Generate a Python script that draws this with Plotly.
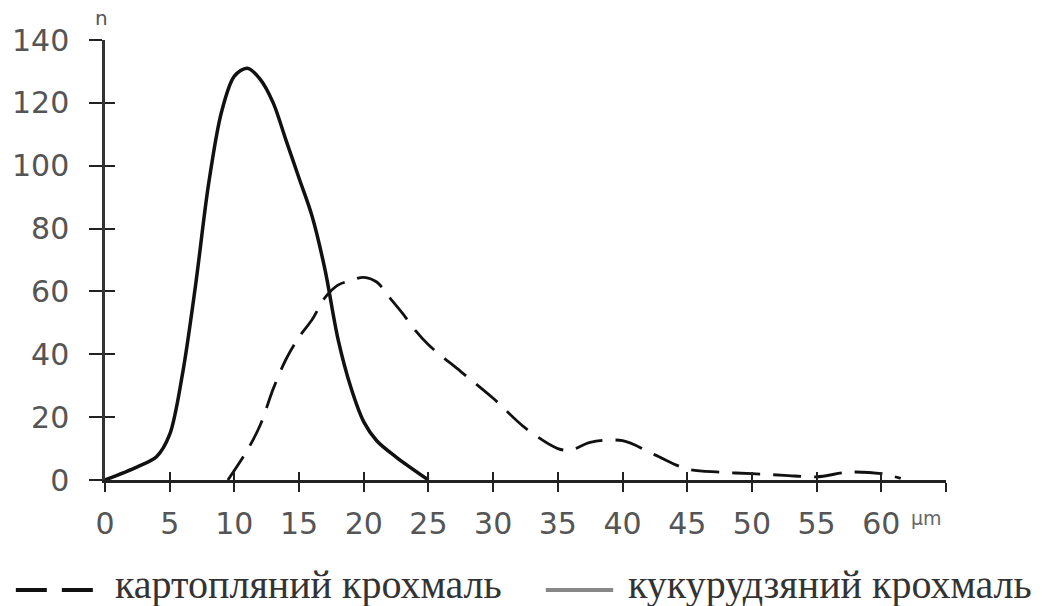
import plotly.graph_objects as go

# ---- data ----
corn_x = [0, 2.5, 4, 5, 6, 7, 8, 9, 10, 11, 12, 13, 14, 15, 16, 17, 18, 19, 20, 21, 22.5, 25]
corn_y = [0, 4.2, 7.5, 14.5, 34, 62, 94, 117, 128.5, 131, 127.5, 120, 108, 96, 84, 67, 45, 29.5, 18.5, 12.5, 7.3, 0]

potato_x = [9.5, 11, 12, 13, 14, 15, 16, 17, 18, 19, 20, 21, 22, 23, 24, 25, 27.5, 30, 32.5, 35, 36,
            37.5, 40, 42.5, 45, 47.5, 50, 52.5, 55, 57.5, 60, 61.5]
potato_y = [0, 9.5, 17.5, 29, 38.5, 45.5, 51, 58, 62, 63.5, 64.5, 63, 58, 53, 47.5, 43, 34.5, 26, 16.5, 10, 9.5,
            12, 12.5, 8, 3.5, 2.5, 2, 1.5, 1, 2.5, 2, 0.5]

x_tickvals = [0, 5, 10, 15, 20, 25, 30, 35, 40, 45, 50, 55, 60, 65]
x_ticktext = ["0", "5", "10", "15", "20", "25", "30", "35", "40", "45", "50", "55", "60", ""]
y_tickvals = [0, 20, 40, 60, 80, 100, 120, 140]
y_ticktext = ["0", "20", "40", "60", "80", "100", "120", "140"]

legend_potato = "картопляний крохмаль"
legend_corn = "кукурудзяний крохмаль"
y_title = "n"
x_unit = "μm"

# ---- figure ----
fig = go.Figure()
fig.add_trace(go.Scatter(x=corn_x, y=corn_y, mode="lines", cliponaxis=False,
                         line=dict(color="#111111", width=3.5, shape="spline", smoothing=0.9),
                         showlegend=False))
fig.add_trace(go.Scatter(x=potato_x, y=potato_y, mode="lines", cliponaxis=False,
                         line=dict(color="#111111", width=2.8, dash="28px,13px", shape="spline", smoothing=0.9),
                         showlegend=False))
# dummy trace for overlay axes (inside ticks)
fig.add_trace(go.Scatter(x=[None], y=[None], xaxis="x2", yaxis="y2", showlegend=False, hoverinfo="skip"))

tickfont = dict(family="DejaVu Sans", size=30, color="#555555")

fig.update_layout(
    width=1042, height=606,
    margin=dict(l=97, r=96, t=40, b=126),
    paper_bgcolor="white", plot_bgcolor="white",
    xaxis=dict(range=[0, 65], showgrid=False, zeroline=False, showline=True, linecolor="#222222", linewidth=2.5,
               ticks="outside", ticklen=9, tickwidth=2.2, tickcolor="#222222",
               tickmode="array", tickvals=x_tickvals, ticktext=x_ticktext, tickfont=tickfont,
               ticklabelstandoff=6),
    yaxis=dict(range=[0, 140], showgrid=False, zeroline=False, showline=True, linecolor="#333333", linewidth=2.5,
               ticks="outside", ticklen=13, tickwidth=2.2, tickcolor="#222222",
               tickmode="array", tickvals=y_tickvals, ticktext=y_ticktext, tickfont=tickfont,
               ticklabelstandoff=14),
    xaxis2=dict(range=[0, 65], overlaying="x", anchor="y2", showgrid=False, zeroline=False, showline=False,
                ticks="inside", ticklen=8, tickwidth=2.2, tickcolor="#222222",
                tickmode="array", tickvals=x_tickvals, showticklabels=False),
    yaxis2=dict(range=[0, 140], overlaying="y", anchor="x2", showgrid=False, zeroline=False, showline=False,
                ticks="inside", ticklen=10, tickwidth=2.2, tickcolor="#222222",
                tickmode="array", tickvals=y_tickvals, showticklabels=False),
    showlegend=False,
)

def px_x(px):
    return (px - 97) / 849.0

def px_y(py):
    return (480 - py) / 440.0

ly = px_y(590)
fig.add_shape(type="line", xref="paper", yref="paper", x0=px_x(7), x1=px_x(85), y0=ly, y1=ly,
              line=dict(color="#111111", width=4, dash="31px,15px"))
fig.add_shape(type="line", xref="paper", yref="paper", x0=px_x(542), x1=px_x(610), y0=ly, y1=ly,
              line=dict(color="#888888", width=4))

serif = dict(family="Liberation Serif", size=40, color="#333333")
fig.add_annotation(xref="paper", yref="paper", x=px_x(106), y=px_y(608), text=legend_potato, showarrow=False,
                   xanchor="left", yanchor="bottom", font=serif, borderpad=0)
fig.add_annotation(xref="paper", yref="paper", x=px_x(624), y=px_y(608), text=legend_corn, showarrow=False,
                   xanchor="left", yanchor="bottom", font=serif, borderpad=0)
fig.add_annotation(xref="paper", yref="paper", x=px_x(93), y=px_y(18), text=y_title, showarrow=False,
                   xanchor="center", yanchor="middle", font=dict(family="DejaVu Sans", size=20, color="#555555"))
fig.add_annotation(xref="paper", yref="paper", x=px_x(909), y=px_y(518), text=x_unit, showarrow=False,
                   xanchor="left", yanchor="middle", font=dict(family="DejaVu Sans", size=19, color="#666666"))

fig.write_html("out.html")
